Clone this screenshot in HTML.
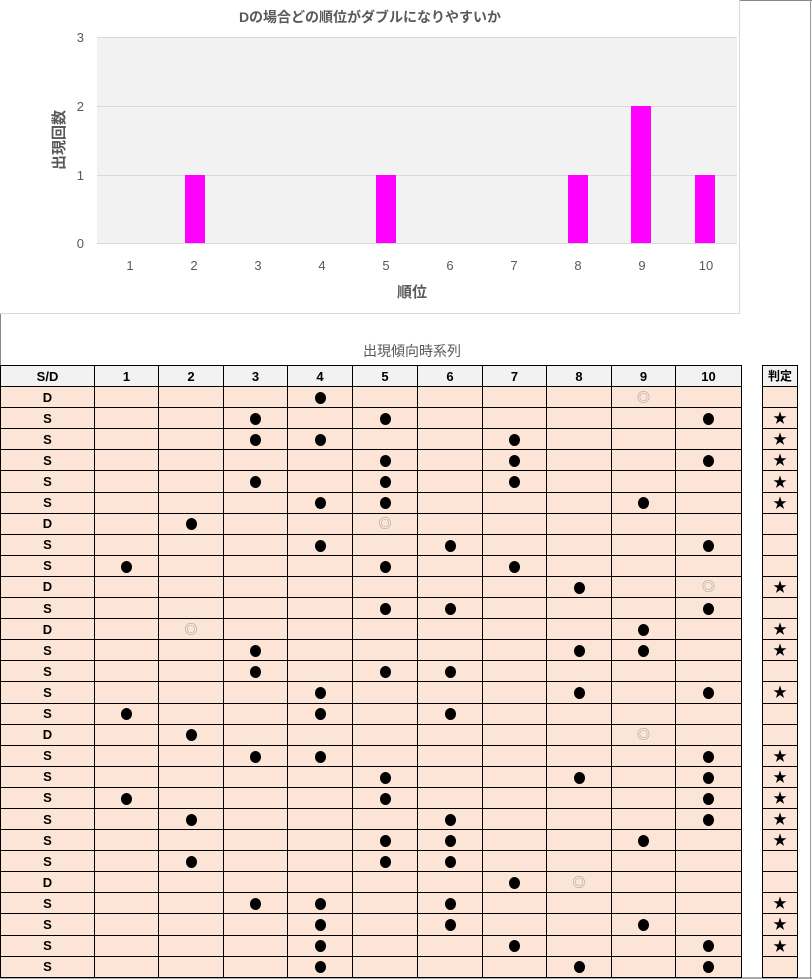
<!DOCTYPE html>
<html><head><meta charset="utf-8"><style>
body{margin:0;width:812px;height:979px;background:#fff;position:relative;overflow:hidden;font-family:"Liberation Sans","Noto Sans CJK JP",sans-serif;}
.abs{position:absolute;}
table{border-collapse:collapse;position:absolute;table-layout:fixed;}
td{border:1px solid #000;background:#fce4d6;text-align:center;padding:0;font-size:13px;font-weight:bold;line-height:1;height:20.1px;}
tr.h td{background:#f2f2f2;}
.d{font-size:14px;}
.c{display:inline-block;width:11px;height:12px;border-radius:50%;background:#000;vertical-align:middle;}
.w{color:#999;font-weight:normal;font-size:13px;}
</style></head><body>
<div class="abs" style="left:0;top:0;width:739px;height:313px;border:1px solid #d9d9d9;border-top:none;border-left:none;"></div>
<div class="abs" style="left:0;top:314px;width:1px;height:665px;background:#888;"></div>
<div class="abs" style="left:0;top:977px;width:812px;height:2px;background:#aaa;"></div>
<div class="abs" style="left:740px;top:0;width:72px;height:1px;background:#888;"></div>
<div class="abs" style="left:810px;top:0;width:1px;height:979px;background:#999;"></div>
<svg class="abs" style="left:0;top:0" width="740" height="314" font-family="Liberation Sans, Noto Sans CJK JP, sans-serif">
<rect x="97" y="37" width="640" height="206" fill="#f2f2f2"/>
<g stroke="#d9d9d9" stroke-width="1"><line x1="97" y1="37.5" x2="737" y2="37.5"/><line x1="97" y1="106.5" x2="737" y2="106.5"/><line x1="97" y1="175.5" x2="737" y2="175.5"/><line x1="97" y1="243.5" x2="737" y2="243.5"/></g>
<g fill="#ff00ff"><rect x="185" y="175" width="20" height="68"/><rect x="376" y="175" width="20" height="68"/><rect x="568" y="175" width="20" height="68"/><rect x="631" y="106" width="20" height="137"/><rect x="695" y="175" width="20" height="68"/></g>
<text x="370" y="22" text-anchor="middle" font-size="14" font-weight="bold" fill="#595959">Dの場合どの順位がダブルになりやすいか</text>
<g font-size="13" fill="#595959" text-anchor="end"><text x="84" y="42">3</text><text x="84" y="111">2</text><text x="84" y="180">1</text><text x="84" y="248">0</text></g>
<g font-size="13" fill="#595959" text-anchor="middle"><text x="130" y="270">1</text><text x="194" y="270">2</text><text x="258" y="270">3</text><text x="322" y="270">4</text><text x="386" y="270">5</text><text x="450" y="270">6</text><text x="514" y="270">7</text><text x="578" y="270">8</text><text x="642" y="270">9</text><text x="706" y="270">10</text></g>
<text x="412" y="297" text-anchor="middle" font-size="15" font-weight="bold" fill="#595959">順位</text>
<text transform="translate(64,140) rotate(-90)" text-anchor="middle" font-size="15" font-weight="bold" fill="#595959">出現回数</text>
</svg>
<div class="abs" style="left:312px;top:341px;width:200px;text-align:center;font-size:14px;color:#595959;">出現傾向時系列</div>
<table id="t" style="left:0;top:365px;width:741px;">
<colgroup><col style="width:94px"><col style="width:64px"><col style="width:65px"><col style="width:64px"><col style="width:65px"><col style="width:65px"><col style="width:65px"><col style="width:64px"><col style="width:65px"><col style="width:64px"><col style="width:66px"></colgroup>
<tbody id="tb"></tbody></table>
<table style="left:762px;top:365px;width:36px;"><tbody id="tj"></tbody></table>
<script>
var rows=[["D",{4:"b",9:"w"},0],["S",[3,5,10],1],["S",[3,4,7],1],["S",[5,7,10],1],["S",[3,5,7],1],["S",[4,5,9],1],["D",{2:"b",5:"w"},0],["S",[4,6,10],0],["S",[1,5,7],0],["D",{8:"b",10:"w"},1],["S",[5,6,10],0],["D",{2:"w",9:"b"},1],["S",[3,8,9],1],["S",[3,5,6],0],["S",[4,8,10],1],["S",[1,4,6],0],["D",{2:"b",9:"w"},0],["S",[3,4,10],1],["S",[5,8,10],1],["S",[1,5,10],1],["S",[2,6,10],1],["S",[5,6,9],1],["S",[2,5,6],0],["D",{7:"b",8:"w"},0],["S",[3,4,6],1],["S",[4,6,9],1],["S",[4,7,10],1],["S",[4,8,10],0]];
var h='<tr class="h"><td>S/D</td>';for(var i=1;i<=10;i++)h+='<td>'+i+'</td>';h+='</tr>';
var j='<tr class="h"><td style="font-size:12px">判定</td></tr>';
rows.forEach(function(r){var m={};if(Array.isArray(r[1]))r[1].forEach(function(c){m[c]="b"});else m=r[1];
h+='<tr><td>'+r[0]+'</td>';for(var i=1;i<=10;i++){var v=m[i];h+=v=="b"?'<td><span class="c"></span></td>':v=="w"?'<td class="w">◎</td>':'<td></td>';}h+='</tr>';
j+='<tr><td class="d">'+(r[2]?'★':'')+'</td></tr>';});
document.getElementById('tb').innerHTML=h;document.getElementById('tj').innerHTML=j;
</script>
</body></html>
